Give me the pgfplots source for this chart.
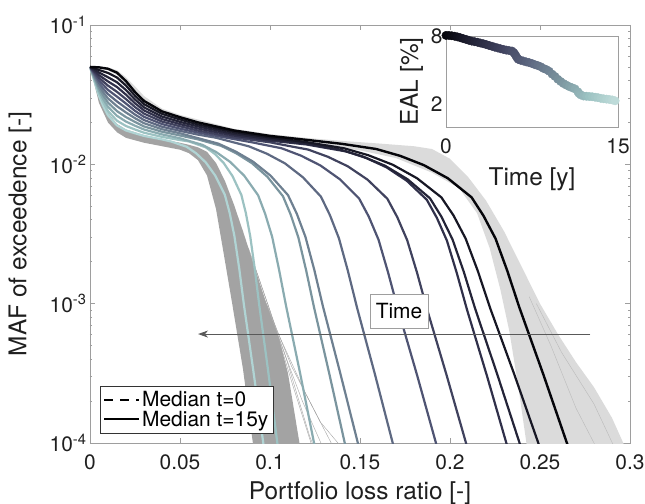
\documentclass[border=0pt]{standalone}
\usepackage{fontspec}
\setmainfont{TeX Gyre Heros}
\usepackage{pgfplots}
\pgfplotsset{compat=1.18}
\usetikzlibrary{arrows.meta}

\newcommand\tickfont{\fontsize{21}{24}\selectfont}
\newcommand\labfont{\fontsize{24.5}{28}\selectfont}
\newcommand\legfont{\fontsize{21}{24}\selectfont}

\definecolor{axgray}{rgb}{0.62,0.62,0.62}
\definecolor{cloudlight}{rgb}{0.86,0.86,0.86}
\definecolor{clouddark}{rgb}{0.64,0.64,0.64}
% medians, t=0 (dark) ... t=15y (light)
\definecolor{c0}{rgb}{0.02,0.02,0.04}
\definecolor{c1}{rgb}{0.09,0.09,0.14}
\definecolor{c2}{rgb}{0.14,0.14,0.22}
\definecolor{c3}{rgb}{0.19,0.19,0.29}
\definecolor{c4}{rgb}{0.25,0.26,0.37}
\definecolor{c5}{rgb}{0.31,0.33,0.45}
\definecolor{c6}{rgb}{0.37,0.41,0.51}
\definecolor{c7}{rgb}{0.43,0.50,0.57}
\definecolor{c8}{rgb}{0.48,0.58,0.62}
\definecolor{c9}{rgb}{0.54,0.67,0.69}
\definecolor{c10}{rgb}{0.61,0.76,0.76}
\definecolor{c11}{rgb}{0.69,0.83,0.83}

\begin{document}
\begin{tikzpicture}
% y values are log10(MAF)
\begin{axis}[
  at={(0,0)}, anchor=south west,
  width=540bp, height=418bp, scale only axis,
  xmin=0, xmax=0.3, ymin=-4, ymax=-1,
  xtick={0,0.05,0.1,0.15,0.2,0.25,0.3},
  xticklabels={0,0.05,0.1,0.15,0.2,0.25,0.3},
  ytick={-4,-3,-2,-1},
  yticklabels={10\textsuperscript{-4},10\textsuperscript{-3},10\textsuperscript{-2},10\textsuperscript{-1}},
  minor ytick={-3.699,-3.523,-3.398,-3.301,-3.222,-3.155,-3.097,-3.046,
               -2.699,-2.523,-2.398,-2.301,-2.222,-2.155,-2.097,-2.046,
               -1.699,-1.523,-1.398,-1.301,-1.222,-1.155,-1.097,-1.046},
  tick align=inside,
  major tick length=5bp, minor tick length=2.5bp,
  tick style={axgray, line width=0.6bp},
  axis line style={axgray, line width=0.8bp},
  tick label style={font=\tickfont, text=black!88},
  xticklabel style={yshift=-8bp},
  xlabel={Portfolio loss ratio [-]},
  ylabel={MAF of exceedence [-]},
  label style={font=\labfont, text=black!88},
  xlabel style={at={(axis description cs:0.5,-0.136)}, anchor=base},
  ylabel style={at={(axis description cs:-0.118,0.5)}, anchor=base},
  legend style={at={(axis description cs:0.0185,0.024)}, anchor=south west,
    draw=black!80, fill=white, font=\legfont, inner xsep=3bp, inner ysep=3bp,
    row sep=-1bp, cells={anchor=west}},
  legend image code/.code={\draw[#1] (0bp,0bp) -- (35bp,0bp);},
  every axis plot/.append style={line join=round},
]
% realisations t=0 (light cloud)
\addplot[fill=cloudlight, draw=none, forget plot] coordinates {
 (0,-1.296) (0.01,-1.305) (0.015,-1.325) (0.02,-1.375) (0.025,-1.44) (0.03,-1.51)
 (0.04,-1.60) (0.05,-1.645) (0.08,-1.745) (0.10,-1.783) (0.12,-1.810) (0.14,-1.832)
 (0.16,-1.850) (0.18,-1.870) (0.19,-1.89) (0.20,-1.96) (0.21,-2.09) (0.22,-2.26)
 (0.23,-2.48) (0.24,-2.74) (0.25,-3.0) (0.26,-3.22) (0.27,-3.42) (0.28,-3.6)
 (0.29,-3.82) (0.298,-4.05)
 (0.243,-4.05) (0.238,-3.6) (0.233,-3.2) (0.228,-2.9) (0.222,-2.6) (0.215,-2.35)
 (0.205,-2.17) (0.19,-2.06) (0.17,-1.955) (0.15,-1.90) (0.12,-1.845) (0.10,-1.815)
 (0.08,-1.775) (0.05,-1.68) (0.04,-1.64) (0.03,-1.575) (0.025,-1.51) (0.02,-1.43)
 (0.015,-1.36) (0.01,-1.325) (0,-1.306)} -- cycle;
\addplot[cloudlight!85!black, line width=0.4bp, forget plot] coordinates {(0.248,-3.0) (0.262,-3.35) (0.28,-3.72) (0.292,-4.05)};
\addplot[cloudlight!85!black, line width=0.4bp, forget plot] coordinates {(0.244,-2.95) (0.256,-3.3) (0.27,-3.75) (0.282,-4.05)};
% realisations t=15y (dark cloud)
\addplot[fill=clouddark, draw=none, forget plot] coordinates {
 (0,-1.301) (0.0025,-1.39) (0.005,-1.49) (0.01,-1.63) (0.015,-1.71) (0.02,-1.75)
 (0.03,-1.79) (0.04,-1.82) (0.05,-1.845) (0.055,-1.86) (0.06,-1.878) (0.065,-1.91)
 (0.07,-1.99) (0.075,-2.12) (0.08,-2.29) (0.085,-2.48) (0.09,-2.68) (0.095,-2.88)
 (0.098,-3.0) (0.105,-3.25) (0.11,-3.5) (0.117,-4.05)
 (0.091,-4.05) (0.085,-3.47) (0.079,-3.0) (0.074,-2.62) (0.07,-2.32) (0.065,-2.08)
 (0.06,-1.97) (0.055,-1.92) (0.05,-1.895) (0.04,-1.87) (0.03,-1.845) (0.02,-1.81)
 (0.015,-1.77) (0.01,-1.70) (0.005,-1.56) (0.0025,-1.43) (0,-1.305)} -- cycle;
\addplot[clouddark, line width=0.4bp, forget plot] coordinates {(0.092,-2.75) (0.104,-3.2) (0.12,-3.65) (0.136,-4.05)};
\addplot[clouddark, line width=0.4bp, forget plot] coordinates {(0.098,-3.0) (0.112,-3.45) (0.128,-3.85) (0.141,-4.05)};
\addplot[clouddark, line width=0.4bp, forget plot] coordinates {(0.088,-2.6) (0.1,-3.05) (0.113,-3.6) (0.124,-4.05)};
\addplot[clouddark, line width=0.4bp, forget plot] coordinates {(0.102,-3.15) (0.118,-3.7) (0.13,-4.05)};
\addplot[clouddark, line width=0.4bp, forget plot] coordinates {(0.095,-2.9) (0.108,-3.35) (0.122,-3.95) (0.125,-4.05)};

% medians
\addplot[c11, line width=2.2bp, forget plot] coordinates {
 (0,-1.301) (0.0025,-1.405) (0.005,-1.509) (0.0075,-1.585) (0.01,-1.648) (0.015,-1.721)
 (0.02,-1.757) (0.025,-1.777) (0.03,-1.796) (0.04,-1.821) (0.045,-1.836) (0.0537,-1.874)
 (0.0590,-1.921) (0.0643,-1.986) (0.0696,-2.081) (0.0749,-2.218) (0.0776,-2.349)
 (0.0802,-2.513) (0.0829,-2.747) (0.0855,-3.007) (0.0908,-3.487) (0.0961,-3.984) (0.1003,-4.384)};
\addplot[c10, line width=2.2bp, forget plot] coordinates {
 (0,-1.301) (0.0025,-1.396) (0.005,-1.490) (0.0075,-1.560) (0.01,-1.618) (0.015,-1.687)
 (0.02,-1.725) (0.025,-1.750) (0.03,-1.773) (0.04,-1.803) (0.05,-1.826) (0.055,-1.836)
 (0.0643,-1.878) (0.0693,-1.925) (0.0742,-1.989) (0.0792,-2.085) (0.0841,-2.220)
 (0.0866,-2.351) (0.0890,-2.515) (0.0915,-2.747) (0.0940,-3.007) (0.0990,-3.486) (0.1039,-3.982) (0.1079,-4.382)};
\addplot[c9, line width=2.2bp, forget plot] coordinates {
 (0,-1.301) (0.0025,-1.386) (0.005,-1.472) (0.0075,-1.535) (0.01,-1.587) (0.015,-1.652)
 (0.02,-1.693) (0.025,-1.723) (0.03,-1.750) (0.04,-1.785) (0.05,-1.813) (0.0624,-1.860)
 (0.0701,-1.912) (0.0779,-1.983) (0.0857,-2.082) (0.0934,-2.222) (0.0973,-2.355)
 (0.1012,-2.520) (0.1050,-2.754) (0.1089,-3.015) (0.1167,-3.497) (0.1244,-3.996) (0.1306,-4.399)};
\addplot[c8, line width=2.2bp, forget plot] coordinates {
 (0,-1.301) (0.0025,-1.377) (0.005,-1.453) (0.0075,-1.509) (0.01,-1.557) (0.015,-1.618)
 (0.02,-1.661) (0.025,-1.696) (0.03,-1.728) (0.04,-1.766) (0.05,-1.793) (0.06,-1.821)
 (0.0728,-1.867) (0.0814,-1.922) (0.0900,-1.992) (0.0986,-2.090) (0.1072,-2.229)
 (0.1115,-2.361) (0.1158,-2.527) (0.1201,-2.762) (0.1244,-3.023) (0.1330,-3.506) (0.1416,-4.004) (0.1485,-4.405)};
\addplot[c7, line width=2.2bp, forget plot] coordinates {
 (0,-1.301) (0.0025,-1.368) (0.005,-1.435) (0.0075,-1.484) (0.01,-1.527) (0.015,-1.583)
 (0.02,-1.628) (0.025,-1.669) (0.03,-1.705) (0.04,-1.748) (0.05,-1.777) (0.06,-1.812)
 (0.0712,-1.851) (0.0809,-1.908) (0.0906,-1.981) (0.1003,-2.081) (0.1100,-2.221)
 (0.1149,-2.355) (0.1197,-2.521) (0.1246,-2.757) (0.1294,-3.019) (0.1391,-3.502) (0.1488,-4.000) (0.1566,-4.402)};
\addplot[c6, line width=2.2bp, forget plot] coordinates {
 (0,-1.301) (0.0025,-1.358) (0.005,-1.416) (0.0075,-1.459) (0.01,-1.496) (0.015,-1.549)
 (0.02,-1.596) (0.025,-1.643) (0.03,-1.682) (0.04,-1.730) (0.05,-1.760) (0.06,-1.787)
 (0.07,-1.809) (0.08,-1.843) (0.0883,-1.871) (0.0983,-1.924) (0.1083,-1.993) (0.1183,-2.093)
 (0.1283,-2.232) (0.1333,-2.365) (0.1383,-2.531) (0.1433,-2.766) (0.1483,-3.026) (0.1583,-3.507) (0.1683,-4.006) (0.1763,-4.408)};
\addplot[c5, line width=2.2bp, forget plot] coordinates {
 (0,-1.301) (0.005,-1.397) (0.01,-1.466) (0.015,-1.514) (0.02,-1.564) (0.025,-1.616)
 (0.03,-1.659) (0.04,-1.711) (0.05,-1.744) (0.06,-1.772) (0.08,-1.819) (0.09,-1.842)
 (0.1065,-1.885) (0.1173,-1.938) (0.1280,-2.008) (0.1388,-2.107) (0.1495,-2.245)
 (0.1549,-2.376) (0.1603,-2.541) (0.1656,-2.776) (0.1710,-3.036) (0.1818,-3.517) (0.1925,-4.014) (0.2011,-4.415)};
\addplot[c4, line width=2.2bp, forget plot] coordinates {
 (0,-1.301) (0.005,-1.379) (0.01,-1.435) (0.015,-1.480) (0.02,-1.532) (0.025,-1.589)
 (0.03,-1.636) (0.04,-1.693) (0.05,-1.727) (0.06,-1.758) (0.08,-1.807) (0.10,-1.842)
 (0.11,-1.867) (0.1212,-1.894) (0.1322,-1.946) (0.1432,-2.014) (0.1542,-2.110)
 (0.1652,-2.247) (0.1707,-2.379) (0.1762,-2.544) (0.1817,-2.778) (0.1872,-3.038) (0.1982,-3.517) (0.2092,-4.014) (0.2180,-4.416)};
\addplot[c3, line width=2.2bp, forget plot] coordinates {
 (0,-1.301) (0.005,-1.360) (0.01,-1.405) (0.015,-1.445) (0.02,-1.500) (0.025,-1.562)
 (0.03,-1.613) (0.04,-1.675) (0.05,-1.711) (0.06,-1.743) (0.08,-1.794) (0.10,-1.830)
 (0.12,-1.857) (0.1425,-1.908) (0.1537,-1.956) (0.1648,-2.022) (0.1760,-2.118)
 (0.1871,-2.254) (0.1927,-2.384) (0.1983,-2.548) (0.2038,-2.781) (0.2094,-3.041) (0.2206,-3.521) (0.2317,-4.018) (0.2406,-4.418)};
\addplot[c2, line width=2.2bp, forget plot] coordinates {
 (0,-1.301) (0.005,-1.341) (0.01,-1.375) (0.015,-1.411) (0.02,-1.467) (0.025,-1.535)
 (0.03,-1.591) (0.04,-1.657) (0.05,-1.695) (0.06,-1.728) (0.08,-1.782) (0.10,-1.819)
 (0.12,-1.851) (0.1389,-1.894) (0.1514,-1.943) (0.1639,-2.010) (0.1764,-2.107)
 (0.1889,-2.244) (0.1952,-2.375) (0.2014,-2.539) (0.2077,-2.773) (0.2139,-3.033) (0.2264,-3.513) (0.2389,-4.010) (0.2489,-4.411)};
\addplot[c1, line width=2.2bp, forget plot] coordinates {
 (0,-1.301) (0.005,-1.323) (0.01,-1.344) (0.015,-1.377) (0.02,-1.435) (0.025,-1.508)
 (0.03,-1.568) (0.04,-1.638) (0.05,-1.678) (0.06,-1.714) (0.08,-1.769) (0.10,-1.807)
 (0.12,-1.840) (0.1412,-1.885) (0.1547,-1.935) (0.1682,-2.003) (0.1817,-2.100)
 (0.1952,-2.237) (0.2020,-2.368) (0.2087,-2.533) (0.2155,-2.767) (0.2222,-3.028) (0.2357,-3.507) (0.2492,-4.005) (0.2600,-4.406)};
\addplot[c0, line width=2.4bp, forget plot] coordinates {
 (0,-1.301) (0.005,-1.304) (0.01,-1.314) (0.015,-1.342) (0.02,-1.403) (0.025,-1.481)
 (0.03,-1.545) (0.04,-1.620) (0.05,-1.662) (0.06,-1.699) (0.08,-1.757) (0.10,-1.796)
 (0.12,-1.824) (0.14,-1.853) (0.159,-1.890) (0.1723,-1.939) (0.1855,-2.006) (0.1988,-2.100)
 (0.212,-2.237) (0.2186,-2.369) (0.2253,-2.533) (0.2319,-2.767) (0.2385,-3.026) (0.2518,-3.506) (0.265,-4.002) (0.2756,-4.402)};

% time arrow
\addplot[black!65, line width=1bp, -{Stealth[length=10bp,width=7bp,inset=3bp]}, forget plot]
  coordinates {(0.278,-3.218) (0.06,-3.218)};
\node[draw=axgray, fill=white, font=\tickfont, inner xsep=6bp, inner ysep=9bp]
  at (axis cs:0.1717,-3.053) {Time};

\addlegendimage{black, line width=2bp, dash pattern=on 9bp off 7bp}
\addlegendentry{Median t=0}
\addlegendimage{black, line width=2bp}
\addlegendentry{Median t=15y}
\end{axis}

% inset: EAL over time
\begin{axis}[
  at={(356bp,316bp)}, anchor=south west,
  width=172bp, height=91bp, scale only axis,
  xmin=0, xmax=15, ymin=0, ymax=8,
  xtick={0,15}, xticklabels={0,15},
  ytick={2,8}, yticklabels={2,8},
  major tick length=0pt,
  axis line style={axgray, line width=0.8bp},
  tick label style={font=\tickfont, text=black!88},
  xticklabel style={yshift=-8bp},
  xlabel={Time [y]}, ylabel={EAL [\%]},
  label style={font=\labfont, text=black!88},
  xlabel style={at={(axis description cs:0.5,-0.648)}, anchor=base},
  ylabel style={at={(axis description cs:-0.163,0.5)}, anchor=base},
  clip=false,
  colormap={eal}{rgb=(0.02,0.02,0.04) rgb=(0.14,0.14,0.22) rgb=(0.25,0.26,0.37)
    rgb=(0.37,0.41,0.51) rgb=(0.48,0.58,0.62) rgb=(0.61,0.76,0.76) rgb=(0.76,0.87,0.86)},
  point meta min=0, point meta max=15,
]
\addplot[scatter, only marks, mark=*, mark size=4.2bp, point meta=x,
  scatter/use mapped color={draw=mapped color, fill=mapped color}] coordinates {
 (0,8.05) (0.25,8.05) (0.5,8.02) (0.75,7.98) (1.0,7.92) (1.25,7.85) (1.5,7.77) (1.75,7.70)
 (2.0,7.62) (2.25,7.55) (2.5,7.50) (2.75,7.45) (3.0,7.38) (3.25,7.32) (3.5,7.25) (3.75,7.17)
 (4.0,7.10) (4.25,7.02) (4.5,6.95) (4.75,6.88) (5.0,6.82) (5.25,6.76) (5.5,6.72) (5.75,6.68)
 (5.9,6.55) (6.0,6.42) (6.1,6.25) (6.2,6.08) (6.3,5.95) (6.5,5.87) (6.75,5.80) (7.0,5.72)
 (7.25,5.66) (7.5,5.58) (7.75,5.48) (8.0,5.40) (8.25,5.30) (8.5,5.15) (8.75,5.05) (9.0,4.90)
 (9.25,4.65) (9.5,4.45) (9.75,4.20) (10.0,4.00) (10.25,3.82) (10.5,3.68) (10.75,3.55)
 (11.0,3.45) (11.25,3.35) (11.5,3.10) (11.6,2.95) (11.75,2.82) (12.0,2.72) (12.25,2.70)
 (12.5,2.68) (12.75,2.66) (13.0,2.62) (13.25,2.58) (13.5,2.52) (13.75,2.48) (14.0,2.45)
 (14.25,2.42) (14.5,2.38) (14.75,2.30)};
\end{axis}

\pgfresetboundingbox
\path[use as bounding box] (-90bp,-61bp) rectangle (555bp,443bp);
\end{tikzpicture}
\end{document}
